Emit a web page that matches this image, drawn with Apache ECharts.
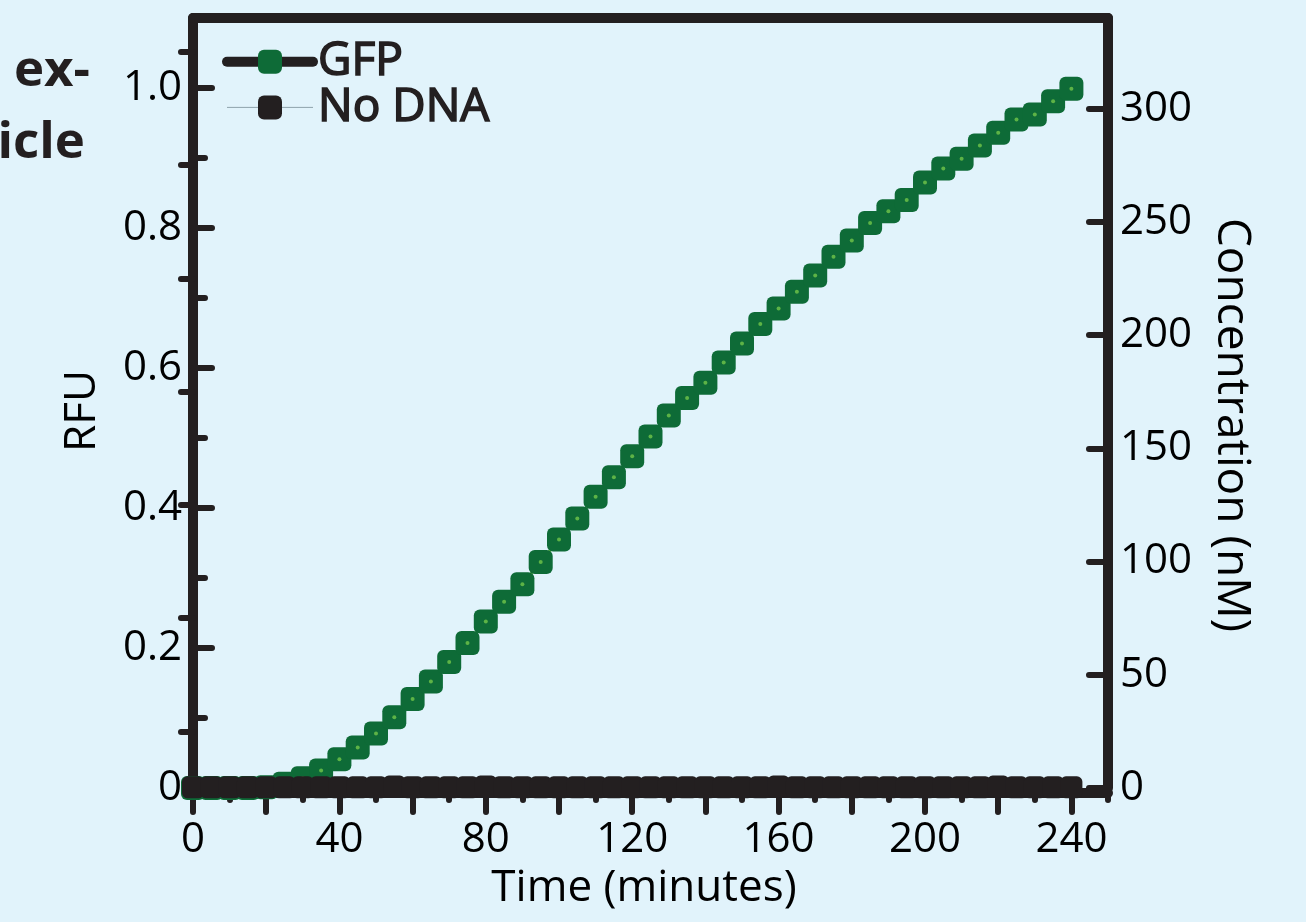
<!DOCTYPE html>
<html>
<head>
<meta charset="utf-8">
<script src="https://cdn.jsdelivr.net/npm/echarts@6/dist/echarts.min.js"></script>
<style>
  html, body { margin: 0; padding: 0; background: #e1f3fb; }
  #chart { width: 1306px; height: 922px; }
</style>
</head>
<body>
<div id="chart"></div>
<script>
// time points (minutes)
const times = [0, 5, 10, 15, 20, 25, 30, 35, 40, 45, 50, 55, 60, 65, 70, 75, 80, 85, 90, 95,
  100, 105, 110, 115, 120, 125, 130, 135, 140, 145, 150, 155, 160, 165, 170, 175, 180, 185, 190, 195,
  200, 205, 210, 215, 220, 225, 230, 235, 240]

// RFU
const gfp = [0.000, 0.000, 0.000, 0.000, 0.001, 0.006, 0.014, 0.025, 0.041, 0.058,
  0.078, 0.101, 0.127, 0.152, 0.180, 0.207, 0.238, 0.266, 0.291, 0.323,
  0.355, 0.385, 0.416, 0.444, 0.474, 0.502, 0.532, 0.557, 0.579, 0.608,
  0.635, 0.663, 0.685, 0.709, 0.732, 0.759, 0.782, 0.807, 0.824, 0.840,
  0.865, 0.885, 0.899, 0.918, 0.936, 0.955, 0.962, 0.981, 0.999]

const noDna = [0.001, 0.001, 0.001, 0.001, 0.001, 0.001, 0.001, 0.001, 0.001, 0.001,
  0.001, 0.002, 0.001, 0.001, 0.001, 0.001, 0.002, 0.001, 0.001, 0.001,
  0.001, 0.001, 0.001, 0.001, 0.001, 0.001, 0.001, 0.001, 0.001, 0.001,
  0.001, 0.001, 0.002, 0.001, 0.001, 0.001, 0.001, 0.001, 0.001, 0.001,
  0.001, 0.001, 0.001, 0.001, 0.002, 0.001, 0.001, 0.001, 0.001]

// ticks
const xMajor = [0, 20, 40, 60, 80, 100, 120, 140, 160, 180, 200, 220, 240]
const xMinor = [10, 30, 50, 70, 90, 110, 130, 150, 170, 190, 210, 230, 250]
const xLabels = [0, 40, 80, 120, 160, 200, 240]
const rfuMajor = [0, 0.2, 0.4, 0.6, 0.8, 1.0]
const rfuMinor = [0.1, 0.3, 0.5, 0.7, 0.9]
const concMajor = [0, 50, 100, 150, 200, 250, 300]
const concMinor = [25, 75, 125, 175, 225, 275, 325]

const INK = '#231f20'
const GREEN = '#0e6b37'
const LIGHT = '#72c64a'
const FONT = 'Open Sans'

const pair = (ys) => times.map((t, i) => [t, ys[i]])

const chart = echarts.init(document.getElementById('chart'))

const lineAxis = { show: true, onZero: false, lineStyle: { color: INK, width: 10, cap: 'round' } }
const tickStyle = { color: INK, width: 6, cap: 'round' }
const labelStyle = { fontSize: 42, color: '#000', fontFamily: FONT }

chart.setOption({
  backgroundColor: '#e1f3fb',
  animation: false,
  grid: { left: 193, right: 198, top: 18, bottom: 134, containLabel: false, outerBoundsMode: 'none' },
  legend: {
    orient: 'vertical',
    left: 222,
    top: 38,
    padding: 0,
    itemWidth: 86,
    itemHeight: 30,
    itemGap: -2,
    selectedMode: false,
    textStyle: { fontSize: 46, fontFamily: FONT, color: INK, textBorderColor: INK, textBorderWidth: 1.6 },
    data: [
      { name: 'GFP', lineStyle: { color: INK, width: 10, cap: 'round' }, itemStyle: { color: GREEN } },
      { name: 'No DNA', lineStyle: { color: '#8fa3ac', width: 1 }, itemStyle: { color: INK } }
    ]
  },
  xAxis: [
    {
      type: 'value', position: 'bottom', min: 0, max: 250, offset: 5,
      axisLine: lineAxis,
      axisTick: { show: true, customValues: xMajor, length: 19, lineStyle: tickStyle },
      axisLabel: Object.assign({ customValues: xLabels, margin: 26 }, labelStyle),
      splitLine: { show: false }
    },
    {
      type: 'value', position: 'bottom', min: 0, max: 250, offset: 5,
      axisLine: { show: false },
      axisTick: { show: true, customValues: xMinor, length: 12, lineStyle: tickStyle },
      axisLabel: { show: false },
      splitLine: { show: false }
    },
    {
      type: 'value', position: 'top', min: 0, max: 250,
      axisLine: lineAxis,
      axisTick: { show: false },
      axisLabel: { show: false },
      splitLine: { show: false }
    }
  ],
  yAxis: [
    {
      type: 'value', position: 'left', min: 0, max: 1.1,
      axisLine: lineAxis,
      axisTick: { show: true, inside: true, customValues: rfuMajor, length: 19, lineStyle: tickStyle },
      axisLabel: Object.assign({
        customValues: rfuMajor, margin: 11,
        formatter: (v) => (v === 0 ? '0' : v.toFixed(1))
      }, labelStyle),
      splitLine: { show: false }
    },
    {
      type: 'value', position: 'left', min: 0, max: 1.1,
      axisLine: { show: false },
      axisTick: { show: true, inside: true, customValues: rfuMinor, length: 12, lineStyle: tickStyle },
      axisLabel: { show: false },
      splitLine: { show: false }
    },
    {
      type: 'value', position: 'right', min: 0, max: 340,
      axisLine: lineAxis,
      axisTick: { show: true, inside: true, customValues: concMajor, length: 19, lineStyle: tickStyle },
      axisLabel: Object.assign({ customValues: concMajor, margin: 12 }, labelStyle),
      splitLine: { show: false }
    },
    {
      type: 'value', position: 'right', min: 0, max: 340,
      axisLine: { show: false },
      axisTick: { show: true, inside: true, customValues: concMinor, length: 12, lineStyle: tickStyle },
      axisLabel: { show: false },
      splitLine: { show: false }
    }
  ],
  series: [
    {
      name: 'GFP',
      type: 'line',
      data: pair(gfp),
      symbol: 'roundRect',
      symbolSize: 24,
      showAllSymbol: true,
      itemStyle: { color: GREEN },
      lineStyle: { color: LIGHT, width: 3 },
      z: 2
    },
    {
      name: 'GFP centre',
      type: 'scatter',
      data: pair(gfp),
      symbol: 'circle',
      symbolSize: 4,
      itemStyle: { color: LIGHT },
      silent: true,
      z: 3
    },
    {
      name: 'No DNA',
      type: 'line',
      data: pair(noDna),
      symbol: 'roundRect',
      symbolSize: 22,
      showAllSymbol: true,
      itemStyle: { color: INK },
      lineStyle: { color: '#8fa3ac', width: 1 },
      z: 4
    }
  ],
  graphic: [
    { type: 'text', x: 90, y: 71, style: { text: 'ex-', align: 'right', verticalAlign: 'middle', font: 'bold 51px "Open Sans"', fill: INK } },
    { type: 'text', x: 85, y: 143, style: { text: 'icle', align: 'right', verticalAlign: 'middle', font: 'bold 51px "Open Sans"', fill: INK } },
    { type: 'text', x: 82, y: 411, rotation: Math.PI / 2, style: { text: 'RFU', align: 'center', verticalAlign: 'middle', font: '44px "Open Sans"', fill: '#000' } },
    { type: 'text', x: 1231, y: 425, rotation: -Math.PI / 2, style: { text: 'Concentration (nM)', align: 'center', verticalAlign: 'middle', font: '46px "Open Sans"', fill: '#000' } },
    { type: 'text', x: 644, y: 888, style: { text: 'Time (minutes)', align: 'center', verticalAlign: 'middle', font: '44px "Open Sans"', fill: '#000' } }
  ]
})
</script>
</body>
</html>
